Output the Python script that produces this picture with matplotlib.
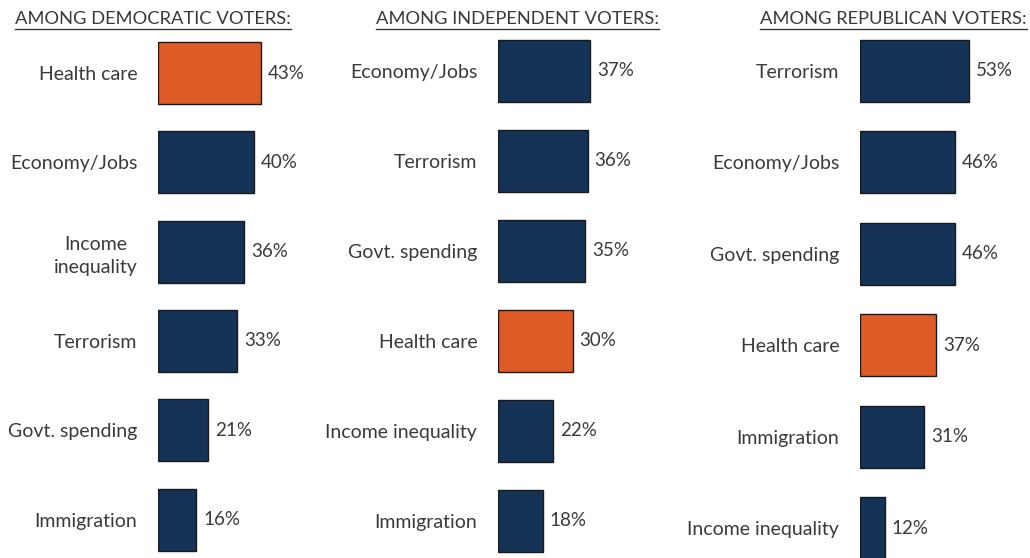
import matplotlib.pyplot as plt
from matplotlib.lines import Line2D

plt.rcParams['font.family'] = ['Lato', 'DejaVu Sans']

# Data
dem_issues = ['Health care', 'Economy/Jobs', 'Income\ninequality', 'Terrorism', 'Govt. spending', 'Immigration']
dem_values = [43, 40, 36, 33, 21, 16]
ind_issues = ['Economy/Jobs', 'Terrorism', 'Govt. spending', 'Health care', 'Income inequality', 'Immigration']
ind_values = [37, 36, 35, 30, 22, 18]
rep_issues = ['Terrorism', 'Economy/Jobs', 'Govt. spending', 'Health care', 'Immigration', 'Income inequality']
rep_values = [53, 46, 46, 37, 31, 12]
titles = ['AMONG DEMOCRATIC VOTERS:', 'AMONG INDEPENDENT VOTERS:', 'AMONG REPUBLICAN VOTERS:']

NAVY = '#153257'
ORANGE = '#df5b25'
TEXT = '#3a3a3a'

W, H = 1030, 558
fig = plt.figure(figsize=(W / 100, H / 100), dpi=100)

# layout per panel: bar left px, px per %, first center px, spacing px, axes width px
layouts = [
    (158, 2.40, 73, 89.3, 180),
    (498, 2.49, 71, 90.0, 180),
    (860, 2.06, 71, 91.4, 165),
]
panels = [(dem_issues, dem_values), (ind_issues, ind_values), (rep_issues, rep_values)]

for (issues, values), (x0, scale, c0, step, wpx) in zip(panels, layouts):
    ax = fig.add_axes([x0 / W, 0, wpx / W, 1])
    ypos = list(range(len(values)))
    colors = [ORANGE if name == 'Health care' else NAVY for name in issues]
    ax.barh(ypos, values, height=62 / step, color=colors, edgecolor='#1a1a1a',
            linewidth=1.0)
    ax.set_xlim(0, wpx / scale)
    ax.set_ylim((H - c0) / step, -c0 / step)
    ax.set_yticks(ypos)
    ax.set_yticklabels(issues, fontsize=14, color=TEXT, multialignment='center',
                       linespacing=1.45)
    ax.tick_params(axis='y', length=0, pad=15)
    ax.set_xticks([])
    for s in ax.spines.values():
        s.set_visible(False)
    for y, v in zip(ypos, values):
        ax.text(v + 7 / scale, y, f'{v}%', va='center', ha='left', fontsize=13.5, color=TEXT)

title_x = [15, 376, 760]
title_objs = []
for tx, t in zip(title_x, titles):
    title_objs.append(fig.text(tx / W, 1 - 19 / H, t, fontsize=13.2, color=TEXT,
                               ha='left', va='center'))

fig.canvas.draw()
renderer = fig.canvas.get_renderer()
for t in title_objs:
    bb = t.get_window_extent(renderer)
    yl = (bb.y0 - 2) / H
    fig.add_artist(Line2D([bb.x0 / W, bb.x1 / W], [yl, yl], color=TEXT, linewidth=1.0,
                          transform=fig.transFigure))

fig.savefig('out.png', dpi=100)
